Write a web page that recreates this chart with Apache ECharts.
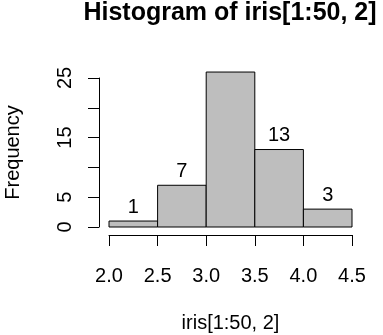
<!DOCTYPE html>
<html>
<head>
<meta charset="utf-8">
<script src="https://cdn.jsdelivr.net/npm/echarts@6/dist/echarts.min.js"></script>
<style>
html, body { margin: 0; padding: 0; background: #fff; }
#main { width: 383px; height: 335px; }
</style>
</head>
<body>
<div id="main"></div>
<script>
// Histogram of iris[1:50, 2]
var breaks = [2.0, 2.5, 3.0, 3.5, 4.0, 4.5];
var counts = [1, 7, 26, 13, 3];
var yTicks = [0, 5, 10, 15, 20, 25];
var yLabelsShown = [0, 5, 15, 25];   // R drops the labels that would overlap
var titleText = 'Histogram of iris[1:50, 2]';
var xName = 'iris[1:50, 2]';
var yName = 'Frequency';

var font = '"Liberation Sans", Arial, sans-serif';
var yMax = yTicks[yTicks.length - 1];

var barData = [];
for (var i = 0; i < counts.length; i++) {
    barData.push([breaks[i], breaks[i + 1], counts[i]]);
}

function renderBar(params, api) {
    var x0 = api.value(0), x1 = api.value(1), n = api.value(2);
    var p0 = api.coord([x0, 0]);
    var p1 = api.coord([x1, n]);
    var children = [{
        type: 'rect',
        shape: { x: p0[0], y: p1[1], width: p1[0] - p0[0], height: p0[1] - p1[1] },
        style: { fill: '#bebebe', stroke: '#000', lineWidth: 1 }
    }];
    // label above the bar, clipped like R when outside the plot
    if (n <= yMax) {
        children.push({
            type: 'text',
            x: (p0[0] + p1[0]) / 2,
            y: p1[1] - 14,
            style: {
                text: String(n),
                fill: '#000',
                fontSize: 20,
                fontFamily: font,
                align: 'center',
                verticalAlign: 'middle'
            }
        });
    }
    return { type: 'group', children: children };
}

var myChart = echarts.init(document.getElementById('main'));
myChart.setOption({
    animation: false,
    backgroundColor: '#fff',
    graphic: [{
        type: 'text',
        x: 230,
        y: 13,
        style: {
            text: titleText,
            fill: '#000',
            fontSize: 25,
            fontWeight: 'bold',
            fontFamily: font,
            align: 'center',
            verticalAlign: 'middle'
        }
    }],
    grid: {
        left: 109,
        right: 31,
        top: 78,
        bottom: 108,
        outerBoundsMode: 'none'
    },
    xAxis: {
        type: 'value',
        min: breaks[0],
        max: breaks[breaks.length - 1],
        interval: 0.5,
        offset: 8,
        name: xName,
        nameLocation: 'middle',
        nameGap: 78,
        nameTextStyle: { color: '#000', fontSize: 20, fontFamily: font },
        axisLine: { show: true, onZero: false, lineStyle: { color: '#000', width: 1 } },
        axisTick: { show: true, length: 11, lineStyle: { color: '#000' } },
        axisLabel: {
            color: '#000',
            fontSize: 20,
            fontFamily: font,
            margin: 31,
            formatter: function (v) { return v.toFixed(1); }
        },
        splitLine: { show: false }
    },
    yAxis: {
        type: 'value',
        min: 0,
        max: yMax,
        interval: 5,
        offset: 10,
        name: yName,
        nameLocation: 'middle',
        nameGap: 76,
        nameTextStyle: { color: '#000', fontSize: 20, fontFamily: font },
        axisLine: { show: true, lineStyle: { color: '#000', width: 1 } },
        axisTick: { show: true, length: 11, lineStyle: { color: '#000' } },
        axisLabel: {
            color: '#000',
            fontSize: 20,
            fontFamily: font,
            rotate: 90,
            margin: 24,
            formatter: function (v) {
                return yLabelsShown.indexOf(v) >= 0 ? String(v) : '';
            }
        },
        splitLine: { show: false }
    },
    series: [{
        type: 'custom',
        clip: false,
        renderItem: renderBar,
        encode: { x: [0, 1], y: 2 },
        data: barData
    }]
});
window.addEventListener('resize', function () {
    myChart.resize();
});
</script>
</body>
</html>
